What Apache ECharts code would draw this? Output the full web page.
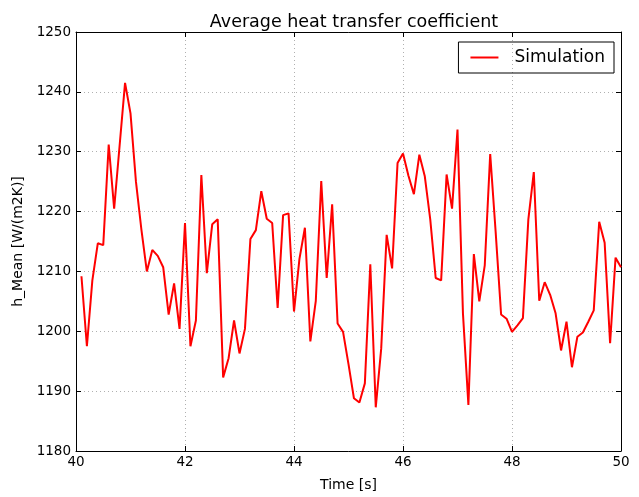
<!DOCTYPE html>
<html>
<head>
<meta charset="utf-8">
<script src="https://cdn.jsdelivr.net/npm/echarts@6/dist/echarts.min.js"></script>
<style>
  html, body { margin: 0; padding: 0; background: #fff; }
  #myChart { width: 639px; height: 497px; }
</style>
</head>
<body>
<div id="myChart"></div>
<script>
// time axis, 40.1 .. 50.0 s
var timeList = [
  40.1, 40.2, 40.3, 40.4, 40.5, 40.6, 40.7, 40.8, 40.9,
  41.0, 41.1, 41.2, 41.3, 41.4, 41.5, 41.6, 41.7, 41.8, 41.9,
  42.0, 42.1, 42.2, 42.3, 42.4, 42.5, 42.6, 42.7, 42.8, 42.9,
  43.0, 43.1, 43.2, 43.3, 43.4, 43.5, 43.6, 43.7, 43.8, 43.9,
  44.0, 44.1, 44.2, 44.3, 44.4, 44.5, 44.6, 44.7, 44.8, 44.9,
  45.0, 45.1, 45.2, 45.3, 45.4, 45.5, 45.6, 45.7, 45.8, 45.9,
  46.0, 46.1, 46.2, 46.3, 46.4, 46.5, 46.6, 46.7, 46.8, 46.9,
  47.0, 47.1, 47.2, 47.3, 47.4, 47.5, 47.6, 47.7, 47.8, 47.9,
  48.0, 48.1, 48.2, 48.3, 48.4, 48.5, 48.6, 48.7, 48.8, 48.9,
  49.0, 49.1, 49.2, 49.3, 49.4, 49.5, 49.6, 49.7, 49.8, 49.9,
  50.0
]
// h_Mean values
var hMeanList = [
  1209.2, 1197.5, 1208.5, 1214.7, 1214.4, 1231.2, 1220.5, 1231.0, 1241.5,
  1236.4, 1225.0, 1217.0, 1210.0, 1213.6, 1212.6, 1210.7, 1202.8, 1208.0, 1200.4,
  1218.1, 1197.5, 1201.8, 1226.1, 1209.7, 1217.9, 1218.7, 1192.3, 1195.5, 1201.8,
  1196.3, 1200.4, 1215.4, 1216.9, 1223.4, 1218.8, 1218.1, 1203.9, 1219.4, 1219.7,
  1203.3, 1212.1, 1217.3, 1198.3, 1205.1, 1225.1, 1208.9, 1221.2, 1201.3, 1199.9,
  1194.5, 1188.8, 1188.1, 1191.3, 1211.2, 1187.3, 1197.1, 1216.1, 1210.5, 1228.1,
  1229.7, 1226.0, 1222.9, 1229.5, 1225.9, 1218.7, 1208.9, 1208.5, 1226.2, 1220.5,
  1233.7, 1203.0, 1187.7, 1212.9, 1205.0, 1211.0, 1229.6, 1216.6, 1202.8, 1202.1,
  1199.9, 1201.0, 1202.2, 1218.7, 1226.6, 1205.1, 1208.2, 1206.1, 1203.0, 1196.8,
  1201.6, 1194.0, 1199.1, 1199.8, 1201.6, 1203.5, 1218.3, 1214.8, 1198.0, 1212.3,
  1210.7
]
var xTicks = [40, 42, 44, 46, 48, 50]
var yTicks = [1180, 1190, 1200, 1210, 1220, 1230, 1240, 1250]

var font = 'DejaVu Sans'
var data = []
for (var i = 0; i < timeList.length; i++) {
  data.push([timeList[i], hMeanList[i]])
}

var myChart = echarts.init(document.getElementById('myChart'), null, { renderer: 'canvas' })

var gridLine = { show: true, lineStyle: { color: '#b0b0b0', type: [1, 3], width: 1 } }
var tickIn = { show: true, inside: true, length: 5, lineStyle: { color: '#000' } }
var plain = function (v) { return String(v) }

myChart.setOption({
  animation: false,
  backgroundColor: '#fff',
  title: {
    text: 'Average heat transfer coefficient',
    left: 349,
    textAlign: 'center',
    top: 8,
    textStyle: { fontFamily: font, fontSize: 17.5, fontWeight: 'normal', color: '#000' }
  },
  legend: {
    right: 25,
    top: 42,
    data: ['Simulation'],
    icon: 'rect',
    itemWidth: 28,
    itemHeight: 2,
    itemGap: 0,
    borderColor: '#000',
    borderWidth: 1,
    padding: [7, 9, 7, 12],
    textStyle: { fontFamily: font, fontSize: 17, color: '#000', padding: [0, 0, 0, 11] }
  },
  grid: { left: 76, right: 18, top: 32, bottom: 44 },
  xAxis: [
    {
      type: 'value',
      min: xTicks[0],
      max: xTicks[xTicks.length - 1],
      interval: 2,
      name: 'Time [s]',
      nameLocation: 'middle',
      nameGap: 27,
      nameTextStyle: { fontFamily: font, fontSize: 14, color: '#000' },
      axisLine: { show: true, lineStyle: { color: '#000', width: 1 } },
      axisTick: tickIn,
      axisLabel: { fontFamily: font, fontSize: 13.5, color: '#000', margin: 4, formatter: plain },
      splitLine: gridLine
    },
    {
      type: 'value',
      position: 'top',
      min: xTicks[0],
      max: xTicks[xTicks.length - 1],
      interval: 2,
      axisLine: { show: true, lineStyle: { color: '#000', width: 1 } },
      axisTick: tickIn,
      axisLabel: { show: false },
      splitLine: { show: false }
    }
  ],
  yAxis: [
    {
      type: 'value',
      min: yTicks[0],
      max: yTicks[yTicks.length - 1],
      interval: 10,
      name: 'h_Mean [W/(m2K)]',
      nameLocation: 'middle',
      nameGap: 49,
      nameTextStyle: { fontFamily: font, fontSize: 14, color: '#000' },
      axisLine: { show: true, lineStyle: { color: '#000', width: 1 } },
      axisTick: tickIn,
      axisLabel: { fontFamily: font, fontSize: 13.5, color: '#000', margin: 5, formatter: plain },
      splitLine: gridLine
    },
    {
      type: 'value',
      position: 'right',
      min: yTicks[0],
      max: yTicks[yTicks.length - 1],
      interval: 10,
      axisLine: { show: true, lineStyle: { color: '#000', width: 1 } },
      axisTick: tickIn,
      axisLabel: { show: false },
      splitLine: { show: false }
    }
  ],
  series: [
    {
      name: 'Simulation',
      type: 'line',
      data: data,
      symbol: 'none',
      itemStyle: { color: '#ff0000' },
      lineStyle: { color: '#ff0000', width: 2 }
    }
  ]
})
</script>
</body>
</html>
